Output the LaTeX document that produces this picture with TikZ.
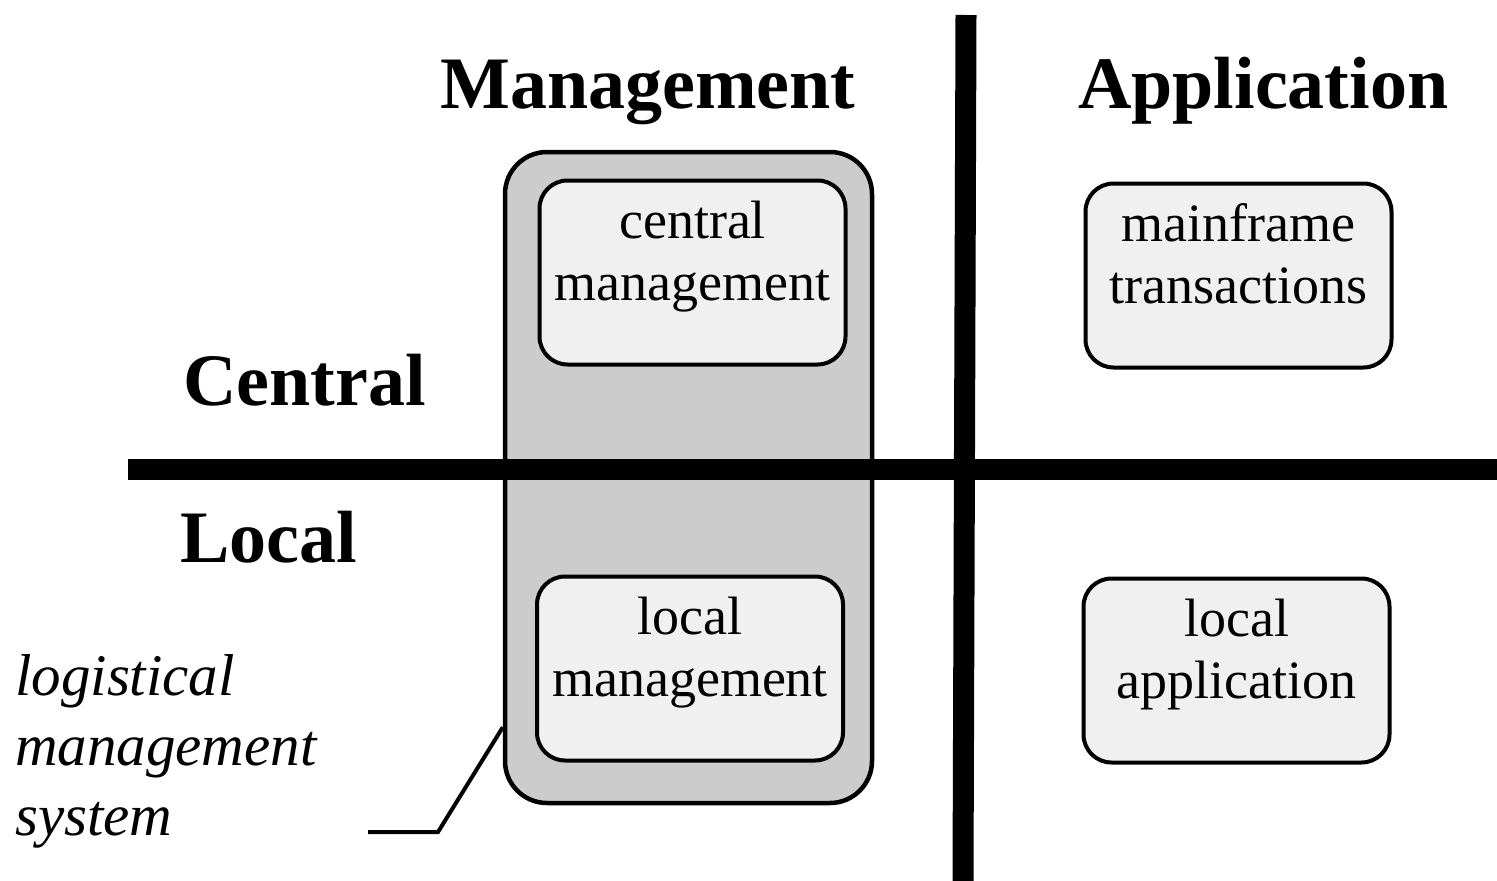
\documentclass[tikz,border=0pt]{standalone}
\usepackage{fontspec}
\setmainfont{Liberation Serif}
\begin{document}
\begin{tikzpicture}[x=1pt,y=-1pt,
  outerbox/.style={draw=black,line width=4.5pt,fill=black!20,rounded corners=42pt,minimum width=367pt,minimum height=651pt,inner sep=0pt},
  innerbox/.style={draw=black,line width=4pt,fill=black!6,rounded corners=28pt,minimum width=306pt,minimum height=184pt,inner sep=0pt,align=center,font=\fontsize{54}{62}\selectfont},
  head/.style={font=\bfseries\fontsize{74}{80}\selectfont,anchor=base west,inner sep=0pt},
  bar/.style={line width=21pt},
  leader/.style={line width=4pt}]
\useasboundingbox (0,0) rectangle (1497,881);
\fill[white] (0,0) rectangle (1497,881);
% outer logistical management box
\node[outerbox] (outer) at (688.5,477.5) {};
% bars
\coordinate (hl) at (128,469);
\coordinate (hr) at (1497,469);
\coordinate (vt) at (966,15);
\coordinate (vb) at (963,881);
\draw[bar] (hl) -- (hr);
\draw[bar] (vt) -- (vb);
% headings
\node[head] (mgmt) at (440,108) {Management};
\node[head] (app) at (1078,108) {Application};
\node[head] (central) at (183,405) {Central};
\node[head] (local) at (180,562) {Local};
% inner boxes
\node[innerbox] (cm) at (692.5,272.5) {central\\management\rule[-44pt]{0pt}{0pt}};
\node[innerbox] (lm) at (690,668.5) {local\\management\rule[-44pt]{0pt}{0pt}};
\node[innerbox] (mt) at (1238.5,275.5) {mainframe\\transactions\rule[-44pt]{0pt}{0pt}};
\node[innerbox] (la) at (1236.5,670.5) {local\\application\rule[-44pt]{0pt}{0pt}};
% italic label
\node[font=\itshape\fontsize{59}{70}\selectfont,align=left,anchor=north west,inner sep=0pt] (lms) at (15,654) {logistical\\management\\system};
% leader
\coordinate (lend) at (368,832);
\coordinate (lbend) at (438,832);
\draw[leader] (lend) -- (lbend) -- ([yshift=78pt]outer.south west);
\end{tikzpicture}
\end{document}
